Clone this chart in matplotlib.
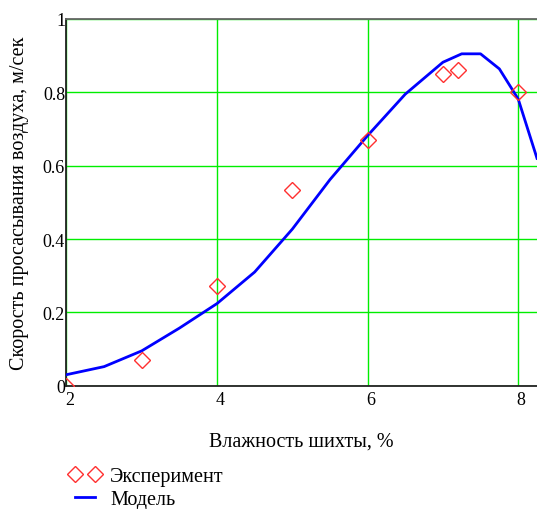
import matplotlib.pyplot as plt
import matplotlib.transforms as mtransforms
from matplotlib.ticker import FixedLocator
import numpy as np

plt.rcParams['font.family'] = ['Liberation Serif', 'DejaVu Serif']

# experiment points
exp_x = [2, 3, 4, 5, 6, 7, 7.2, 8]
exp_y = [0.0, 0.07, 0.273, 0.534, 0.669, 0.85, 0.861, 0.80]

# model curve
mod_x = [2.0, 2.5, 3.0, 3.5, 4.0, 4.5, 5.0, 5.5, 6.0, 6.5, 7.0, 7.25, 7.5, 7.75, 8.0, 8.25]
mod_y = [0.03, 0.052, 0.095, 0.157, 0.224, 0.31, 0.427, 0.562, 0.682, 0.795, 0.882, 0.905, 0.905, 0.864, 0.782, 0.62]

fig = plt.figure(figsize=(5.37, 5.10), dpi=100)
ax = fig.add_axes([0.1238, 0.2418, 0.8762, 0.719])

ax.plot(mod_x, mod_y, color='#0000ff', lw=2, label='Модель', zorder=3)
ax.plot(exp_x, exp_y, ls='none', marker='D', ms=8, mfc='none', mec='#ff3030',
        mew=1, label='Эксперимент', zorder=4)

ax.set_xlim(2, 8.25)
ax.set_ylim(0, 1)
ax.xaxis.set_major_locator(FixedLocator([2, 4, 6, 8]))
ax.yaxis.set_major_locator(FixedLocator([0, 0.2, 0.4, 0.6, 0.8, 1]))
ax.set_yticklabels(['0', '0.2', '0.4', '0.6', '0.8', '1'])
ax.grid(True, color='#00ee00', lw=1)
ax.tick_params(length=0, labelsize=13)
ax.tick_params(axis='x', pad=4)
ax.tick_params(axis='y', pad=1)

# x tick labels sit a little right of their grid lines
shift = mtransforms.ScaledTranslation(3 / 100, 0, fig.dpi_scale_trans)
for lab in ax.get_xticklabels():
    lab.set_transform(lab.get_transform() + shift)

for s in ['left', 'bottom']:
    ax.spines[s].set_color('#222222')
    ax.spines[s].set_linewidth(1.3)
ax.spines['top'].set_color('#666666')
ax.spines['top'].set_linewidth(1.3)
ax.spines['right'].set_visible(False)

ax.set_xlabel('Влажность шихты, %', fontsize=14.5, labelpad=17)
ax.set_ylabel('Скорость просасывания воздуха, м/сек', fontsize=14.5, labelpad=10)

h, l = ax.get_legend_handles_labels()
fig.legend([h[1], h[0]], [l[1], l[0]], loc='upper left', bbox_to_anchor=(0.128, 0.083),
           frameon=False, fontsize=14.5, numpoints=2, handlelength=1.6,
           handletextpad=0.45, labelspacing=0.2, borderpad=0, borderaxespad=0)

fig.savefig('out.png', dpi=100)
